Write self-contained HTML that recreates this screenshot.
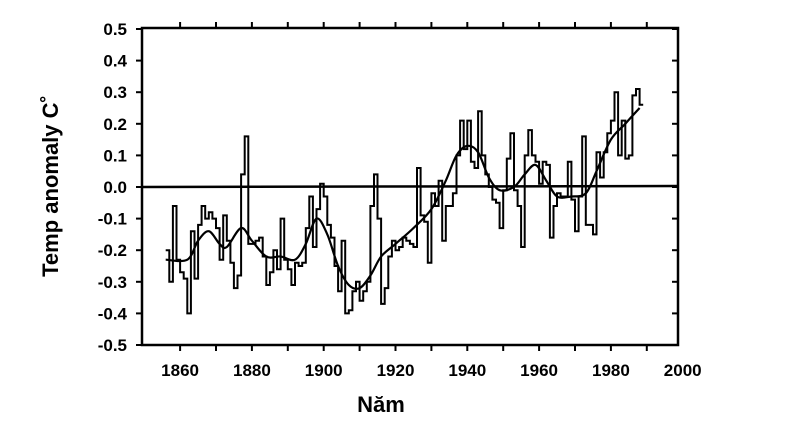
<!DOCTYPE html>
<html><head><meta charset="utf-8"><style>
html,body{margin:0;padding:0;background:#fff;}
svg text{font-family:"Liberation Sans",Arial,sans-serif;font-weight:bold;fill:#000;}
</style></head><body>
<svg id="s" width="786" height="424" viewBox="0 0 786 424" xmlns="http://www.w3.org/2000/svg">
<rect x="142" y="28" width="536" height="317" fill="none" stroke="#000" stroke-width="2.5"/>
<line x1="142" y1="187" x2="678" y2="186" stroke="#000" stroke-width="2.5"/>
<g id="ticks" stroke="#000" stroke-width="2"></g>
<g id="labels" font-size="17"></g>
<text x="58" y="186" font-size="22" text-anchor="middle" transform="rotate(-90 58 186)">Temp anomaly C˚</text>
<text x="381" y="412" font-size="22" text-anchor="middle">Năm</text>
<path id="step" fill="none" stroke="#000" stroke-width="2"/>
<path id="smooth" fill="none" stroke="#000" stroke-width="2.2"/>
</svg>
<script>
var X=function(y){return 216+(y-1870)*3.59;}, Y=function(v){return 187-v*316;};
var ns="http://www.w3.org/2000/svg",t=document.getElementById('ticks'),l=document.getElementById('labels');
function el(p,n,a,txt){var e=document.createElementNS(ns,n);for(var k in a)e.setAttribute(k,a[k]);if(txt)e.textContent=txt;p.appendChild(e);}
for(var i=-5;i<=5;i++){var y=Y(i/10);el(t,'line',{x1:136,y1:y,x2:142,y2:y});el(t,'line',{x1:672,y1:y,x2:678,y2:y});
el(l,'text',{x:127,y:y+6,'text-anchor':'end'},(i<0?'-':'')+Math.abs(i/10).toFixed(1));}
for(var yr=1860;yr<=2000;yr+=10){var x=X(yr);if(x>142&&x<678){el(t,'line',{x1:x,y1:345,x2:x,y2:351});el(t,'line',{x1:x,y1:22,x2:x,y2:28});}
if(yr%20==0)el(l,'text',{x:x,y:376,'text-anchor':'middle'},yr);}
var d=[-0.20,-0.30,-0.06,-0.23,-0.27,-0.29,-0.40,-0.14,-0.29,-0.12,-0.06,-0.10,-0.08,-0.10,-0.13,-0.23,-0.09,-0.17,-0.24,-0.32,-0.28,0.04,0.16,-0.18,-0.18,-0.17,-0.16,-0.22,-0.31,-0.27,-0.20,-0.26,-0.10,-0.23,-0.26,-0.31,-0.24,-0.25,-0.24,-0.13,-0.03,-0.19,-0.07,0.01,-0.03,-0.12,-0.16,-0.25,-0.33,-0.17,-0.40,-0.39,-0.33,-0.30,-0.36,-0.33,-0.30,-0.06,0.04,-0.10,-0.37,-0.32,-0.22,-0.17,-0.20,-0.19,-0.16,-0.17,-0.18,-0.19,0.06,-0.09,-0.11,-0.24,-0.02,-0.06,0.02,-0.17,-0.06,-0.06,-0.02,0.10,0.21,0.12,0.21,0.08,0.06,0.24,0.10,0.04,0.0,-0.04,-0.05,-0.13,-0.01,0.09,0.17,-0.01,-0.06,-0.19,0.10,0.18,0.10,0.08,0.01,0.08,0.07,-0.16,-0.06,-0.02,-0.03,-0.03,0.08,-0.04,-0.14,-0.03,0.16,-0.12,-0.12,-0.15,0.11,0.03,0.11,0.17,0.21,0.30,0.10,0.21,0.09,0.10,0.29,0.31,0.26];
var p='';for(var i=0;i<d.length;i++){var yr=1856+i;p+=(i?'L':'M')+X(yr).toFixed(1)+' '+Y(d[i]).toFixed(1)+'L'+X(yr+1).toFixed(1)+' '+Y(d[i]).toFixed(1);}
document.getElementById('step').setAttribute('d',p);
var s=[[1856,-0.23],[1862,-0.23],[1865,-0.17],[1868,-0.14],[1871,-0.18],[1873,-0.19],[1877,-0.13],[1880,-0.17],[1884,-0.22],[1888,-0.22],[1892,-0.23],[1895,-0.18],[1898,-0.10],[1901,-0.15],[1904,-0.25],[1907,-0.31],[1910,-0.32],[1913,-0.28],[1916,-0.22],[1920,-0.18],[1925,-0.13],[1930,-0.07],[1934,0.02],[1937,0.10],[1940,0.13],[1943,0.11],[1946,0.03],[1949,-0.01],[1953,0.0],[1956,0.04],[1959,0.07],[1962,0.02],[1965,-0.03],[1969,-0.03],[1973,-0.02],[1976,0.05],[1980,0.15],[1984,0.20],[1988,0.25]];
var P=s.map(function(a){return [X(a[0]),Y(a[1])];});
var q='M'+P[0][0].toFixed(1)+' '+P[0][1].toFixed(1);
for(var i=0;i<P.length-1;i++){var p0=P[Math.max(0,i-1)],p1=P[i],p2=P[i+1],p3=P[Math.min(P.length-1,i+2)];
var c1=[p1[0]+(p2[0]-p0[0])/6,p1[1]+(p2[1]-p0[1])/6],c2=[p2[0]-(p3[0]-p1[0])/6,p2[1]-(p3[1]-p1[1])/6];
q+='C'+c1[0].toFixed(1)+' '+c1[1].toFixed(1)+' '+c2[0].toFixed(1)+' '+c2[1].toFixed(1)+' '+p2[0].toFixed(1)+' '+p2[1].toFixed(1);}
document.getElementById('smooth').setAttribute('d',q);
</script>
</body></html>
